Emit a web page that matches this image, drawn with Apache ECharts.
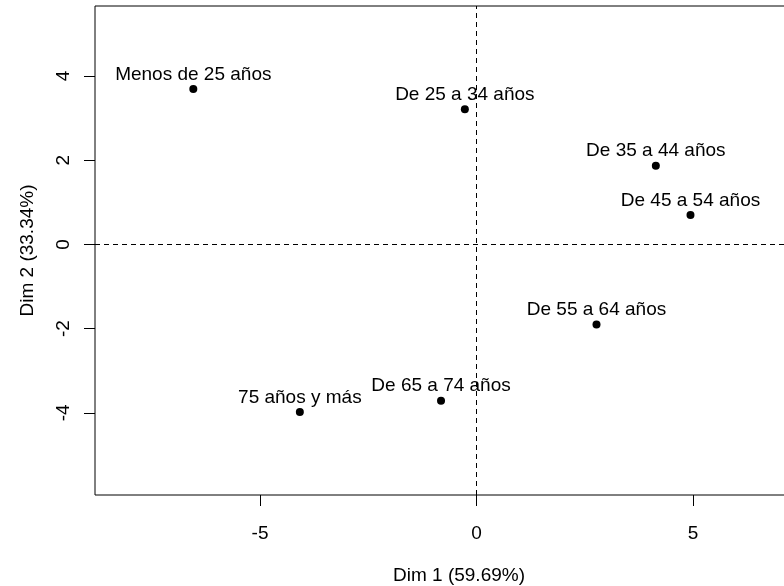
<!DOCTYPE html>
<html>
<head>
<meta charset="utf-8">
<script src="https://cdn.jsdelivr.net/npm/echarts@6/dist/echarts.min.js"></script>
<style>
  html, body { margin: 0; padding: 0; background: #fff; }
  #chart { width: 784px; height: 586px; }
</style>
</head>
<body>
<div id="chart"></div>
<script>
// Age groups projected on the first two dimensions
const categories = [
  'Menos de 25 años',
  'De 25 a 34 años',
  'De 35 a 44 años',
  'De 45 a 54 años',
  'De 55 a 64 años',
  'De 65 a 74 años',
  '75 años y más'
];
const dim1 = [-6.54, -0.27, 4.14, 4.94, 2.77, -0.82, -4.08];
const dim2 = [3.69, 3.21, 1.87, 0.70, -1.90, -3.71, -3.98];

const xTicks = [-5, 0, 5];
const yTicks = [-4, -2, 0, 2, 4];
const xTitle = 'Dim 1 (59.69%)';
const yTitle = 'Dim 2 (33.34%)';

const font = 'Liberation Sans, Arial, Helvetica, sans-serif';
const points = categories.map((name, i) => ({ name: name, value: [dim1[i], dim2[i]] }));

const chart = echarts.init(document.getElementById('chart'), null, { renderer: 'canvas' });
chart.setOption({
  animation: false,
  backgroundColor: '#fff',
  grid: {
    left: 95, top: 6, width: 728, bottom: 91,
    outerBoundsMode: 'none', containLabel: false,
    show: true, borderColor: '#000', borderWidth: 1, backgroundColor: 'transparent'
  },
  xAxis: {
    type: 'value', min: -8.81, max: 8.0,
    name: xTitle, nameLocation: 'middle', nameGap: 71,
    nameTextStyle: { fontFamily: font, fontSize: 19, color: '#000' },
    axisLine: { show: false, onZero: false },
    splitLine: { show: false },
    axisTick: { show: true, customValues: xTicks, length: 11, inside: false, lineStyle: { color: '#000', width: 1 } },
    axisLabel: { customValues: xTicks, margin: 29, fontFamily: font, fontSize: 19, color: '#000' }
  },
  yAxis: {
    type: 'value', min: -5.95, max: 5.66,
    name: yTitle, nameLocation: 'middle', nameGap: 58,
    nameTextStyle: { fontFamily: font, fontSize: 19, color: '#000' },
    axisLine: { show: false, onZero: false },
    splitLine: { show: false },
    axisTick: { show: true, customValues: yTicks, length: 11, inside: false, lineStyle: { color: '#000', width: 1 } },
    axisLabel: { customValues: yTicks, rotate: 90, margin: 22, fontFamily: font, fontSize: 19, color: '#000' }
  },
  series: [{
    type: 'scatter',
    data: points,
    symbol: 'circle',
    symbolSize: 8,
    itemStyle: { color: '#000', opacity: 1 },
    label: {
      show: true, position: 'top', distance: 1,
      formatter: p => p.name,
      fontFamily: font, fontSize: 19, color: '#000'
    },
    markLine: {
      silent: true,
      symbol: 'none',
      label: { show: false },
      lineStyle: { color: '#000', width: 1, type: [5, 4], opacity: 1 },
      data: [{ xAxis: 0 }, { yAxis: 0 }]
    }
  }]
});
</script>
</body>
</html>
